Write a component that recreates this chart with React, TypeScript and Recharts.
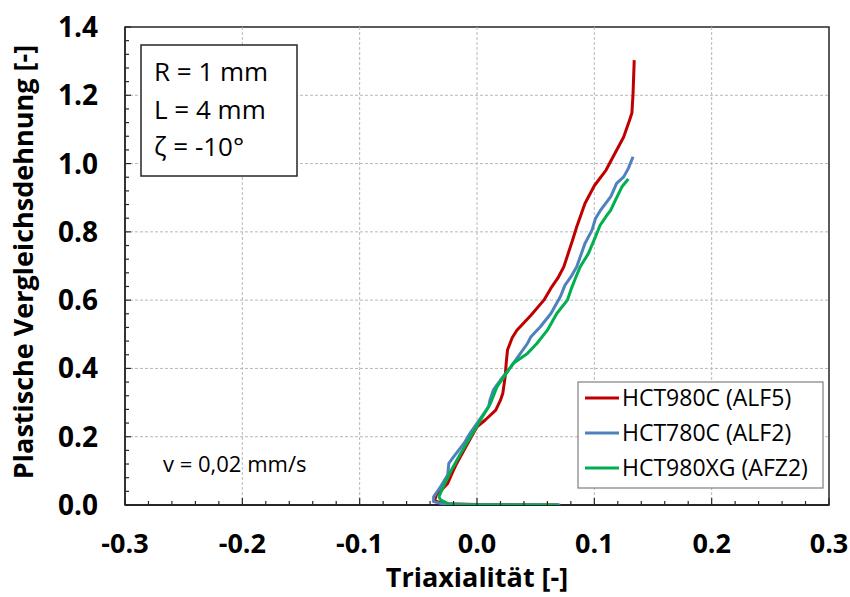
import React from "react";
import { ReferenceArea, ReferenceLine, Scatter, ScatterChart, XAxis, YAxis } from "recharts";

// Triaxialität vs. plastische Vergleichsdehnung, drei Werkstoffe
const red: [number, number][] = [
  [0.07, 0], [0.01, 0.001], [-0.028, 0.004], [-0.036, 0.012], [-0.035, 0.029], [-0.03, 0.045],
  [-0.025, 0.063], [-0.021, 0.095], [-0.018, 0.117], [-0.011, 0.161], [-0.003, 0.211], [0.0, 0.229],
  [0.007, 0.249], [0.016, 0.278], [0.02, 0.307], [0.022, 0.327], [0.024, 0.376], [0.025, 0.42],
  [0.026, 0.454], [0.03, 0.49], [0.034, 0.512], [0.046, 0.556], [0.057, 0.6], [0.063, 0.635],
  [0.069, 0.665], [0.074, 0.698], [0.081, 0.771], [0.085, 0.815], [0.092, 0.883], [0.1, 0.935],
  [0.11, 0.981], [0.116, 1.02], [0.125, 1.078], [0.13, 1.127], [0.132, 1.148], [0.133, 1.205],
  [0.134, 1.303],
];
const blue: [number, number][] = [
  [0.071, 0], [0.0, 0.001], [-0.03, 0.004], [-0.037, 0.01], [-0.037, 0.024], [-0.031, 0.054],
  [-0.025, 0.088], [-0.024, 0.122], [-0.02, 0.141], [-0.011, 0.181], [-0.006, 0.21], [0.0, 0.239],
  [0.01, 0.288], [0.011, 0.307], [0.014, 0.337], [0.02, 0.366], [0.029, 0.405], [0.037, 0.444],
  [0.043, 0.473], [0.046, 0.493], [0.054, 0.522], [0.063, 0.561], [0.071, 0.61], [0.075, 0.644],
  [0.08, 0.668], [0.085, 0.698], [0.088, 0.727], [0.092, 0.766], [0.098, 0.805], [0.101, 0.839],
  [0.105, 0.862], [0.114, 0.903], [0.119, 0.942], [0.125, 0.961], [0.129, 0.986], [0.133, 1.02],
];
const green: [number, number][] = [
  [0.069, 0], [-0.022, 0.0], [-0.031, 0.015], [-0.0325, 0.024], [-0.028, 0.059], [-0.0225, 0.098],
  [-0.014, 0.151], [-0.0055, 0.2], [0.003, 0.249], [0.0115, 0.298], [0.017, 0.346], [0.023, 0.376],
  [0.031, 0.415], [0.043, 0.444], [0.051, 0.473], [0.06, 0.512], [0.068, 0.561], [0.077, 0.6],
  [0.08, 0.63], [0.084, 0.665], [0.088, 0.698], [0.095, 0.737], [0.101, 0.786], [0.105, 0.82],
  [0.11, 0.845], [0.114, 0.864], [0.118, 0.893], [0.1235, 0.932], [0.129, 0.955],
];

const series = [
  { name: "HCT980C (ALF5)", color: "#C00000", pts: red },
  { name: "HCT780C (ALF2)", color: "#4F81BD", pts: blue },
  { name: "HCT980XG (AFZ2)", color: "#00B050", pts: green },
];

const xMajor = [-0.3, -0.2, -0.1, 0, 0.1, 0.2, 0.3];
const yMajor = [0, 0.2, 0.4, 0.6, 0.8, 1.0, 1.2, 1.4];
const annotation = ["R = 1 mm", "L = 4 mm", "ζ = -10°"];
const speedLabel = "v = 0,02 mm/s";

// Nebenteilstriche: x alle 0.02, y alle 0.04
const sub = (major: number[], n: number) => {
  const out: number[] = [];
  for (let i = 0; i < major.length - 1; i++) {
    const step = (major[i + 1] - major[i]) / n;
    for (let k = 0; k < n; k++) out.push(+(major[i] + k * step).toFixed(4));
  }
  out.push(major[major.length - 1]);
  return out;
};
const xTicks = sub(xMajor, 5);
const yTicks = sub(yMajor, 5);

const isMajor = (v: number, list: number[]) => list.some((m) => Math.abs(m - v) < 1e-6);
const BOLD = "'Open Sans', sans-serif";
const AXIS = "#262626";
const GRID = "#b8b8b8";

const XTick = (p: any) => {
  const v = p.payload.value;
  const maj = isMajor(v, xMajor);
  return (
    <g>
      <line x1={p.x} x2={p.x} y1={p.y} y2={p.y - (maj ? 7 : 4)} stroke={AXIS} strokeWidth={1.2} />
      {maj && (
        <text x={p.x} y={p.y + 48} textAnchor="middle" fontFamily={BOLD} fontWeight={700} fontSize={27} fill="#000">
          {v.toFixed(1)}
        </text>
      )}
    </g>
  );
};

const YTick = (p: any) => {
  const v = p.payload.value;
  const maj = isMajor(v, yMajor);
  return (
    <g>
      <line x1={p.x} x2={p.x + (maj ? 6 : 4)} y1={p.y} y2={p.y} stroke={AXIS} strokeWidth={1.2} />
      {maj && (
        <text x={p.x - 27} y={p.y + 10} textAnchor="end" fontFamily={BOLD} fontWeight={700} fontSize={28} fill="#000">
          {v.toFixed(1)}
        </text>
      )}
    </g>
  );
};

export default function App() {
  return (
    <div style={{ position: "absolute", left: 0, top: 0, width: 850, height: 597, background: "#fff" }}>
      <ScatterChart width={850} height={597} margin={{ top: 27, right: 21, left: 10, bottom: 32 }}>
        {xMajor.slice(1, -1).map((v) => (
          <ReferenceLine key={"gx" + v} x={v} stroke={GRID} strokeWidth={1} strokeDasharray="3 2" />
        ))}
        {yMajor.slice(1, -1).map((v) => (
          <ReferenceLine key={"gy" + v} y={v} stroke={GRID} strokeWidth={1} strokeDasharray="3 2" />
        ))}
        <ReferenceArea x1={-0.3} x2={0.3} y1={0} y2={1.4} fill="none" stroke={AXIS} strokeWidth={1.5} />
        <XAxis
          type="number"
          dataKey="x"
          domain={[-0.3, 0.3]}
          ticks={xTicks}
          interval={0}
          tick={<XTick />}
          tickLine={false}
          tickSize={0}
          tickMargin={0}
          height={60}
          axisLine={{ stroke: AXIS, strokeWidth: 2 }}
          allowDataOverflow
        />
        <YAxis
          type="number"
          dataKey="y"
          domain={[0, 1.4]}
          ticks={yTicks}
          interval={0}
          tick={<YTick />}
          tickLine={false}
          tickSize={0}
          tickMargin={0}
          width={115}
          axisLine={{ stroke: AXIS, strokeWidth: 1.5 }}
          allowDataOverflow
        />
        {series.map((s) => (
          <Scatter
            key={s.name}
            name={s.name}
            data={s.pts.map(([x, y]) => ({ x, y }))}
            fill={s.color}
            line={{ stroke: s.color, strokeWidth: 3, strokeLinejoin: "round" }}
            lineJointType="linear"
            shape={() => <g />}
            isAnimationActive={false}
          />
        ))}
      </ScatterChart>
      <svg width={850} height={597} style={{ position: "absolute", left: 0, top: 0, pointerEvents: "none" }}>
        <text
          transform="translate(22,262) rotate(-90)"
          textAnchor="middle"
          dominantBaseline="central"
          fontFamily={BOLD}
          fontWeight={700}
          fontSize={27}
        >
          Plastische Vergleichsdehnung [-]
        </text>
        <text x={477} y={587} textAnchor="middle" fontFamily={BOLD} fontWeight={700} fontSize={27}>
          Triaxialität [-]
        </text>
        <rect x={141} y={45} width={156} height={131} fill="#fff" stroke={AXIS} strokeWidth={1.5} />
        {annotation.map((t, i) => (
          <text key={t} x={154} y={81 + i * 37.5} fontFamily="'Open Sans', sans-serif" fontSize={26} fill="#000">
            {t}
          </text>
        ))}
        <text x={163} y={472} fontFamily="'Open Sans', sans-serif" fontSize={22} fill="#000">
          {speedLabel}
        </text>
        <rect x={578} y={382} width={245} height={106} fill="#fff" stroke="#7f7f7f" strokeWidth={1.2} />
        {series.map((s, i) => (
          <g key={s.name}>
            <line x1={585} x2={619} y1={398 + i * 35} y2={398 + i * 35} stroke={s.color} strokeWidth={3} />
            <text x={622} y={406 + i * 35} fontFamily="'Open Sans', sans-serif" fontSize={23} fill="#000">
              {s.name}
            </text>
          </g>
        ))}
      </svg>
    </div>
  );
}
